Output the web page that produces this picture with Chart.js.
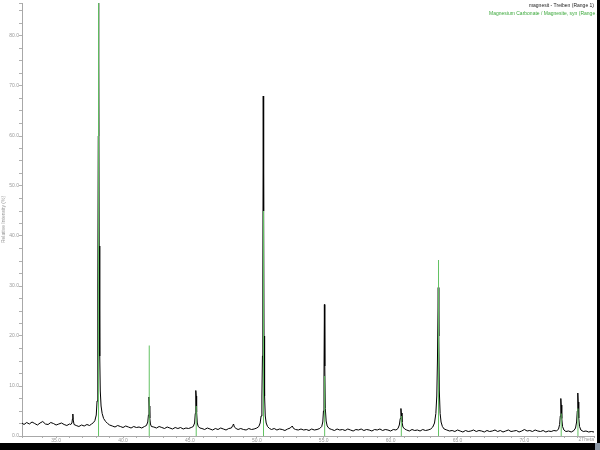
<!DOCTYPE html>
<html>
<head>
<meta charset="utf-8">
<script src="https://cdn.jsdelivr.net/npm/chart.js@4.4.1/dist/chart.umd.min.js"></script>
<style>
  html, body { margin: 0; padding: 0; background: #000; }
  #wrap { position: relative; width: 600px; height: 450px; background: #fff; overflow: hidden; }
  #c { position: absolute; left: 0; top: 0; }
  .bar { position: absolute; background: #000; }
</style>
</head>
<body>
<div id="wrap">
  <canvas id="c" width="600" height="450"></canvas>
  <div class="bar" style="left:0;top:443px;width:600px;height:7px;"></div>
  <div class="bar" style="left:597px;top:0;width:3px;height:450px;"></div>
  <div class="bar" style="left:595px;top:443px;width:5px;height:7px;background:#8a96a4;"></div>
</div>
<script>
// Measured scan (2Theta, relative intensity %)
const scanAngle = [
  32.45,32.6,32.8,33.0,33.2,33.4,33.6,33.8,34.0,34.2,34.4,34.6,34.8,35.0,35.2,35.4,35.6,35.8,36.0,
  36.1,36.18,36.22,36.25,36.28,36.34,
  36.5,36.7,36.9,37.1,37.3,37.5,37.65,37.8,37.9,38.0,38.06,38.1,38.13,38.15,38.17,38.19,38.22,38.26,38.3,38.36,38.44,38.55,38.7,38.85,39.0,
  39.2,39.4,39.6,39.8,40.0,40.2,40.4,40.6,40.8,41.0,41.2,41.4,41.6,41.75,41.85,41.9,41.94,41.97,42.0,42.05,42.12,
  42.3,42.5,42.7,42.9,43.1,43.3,43.5,43.7,43.9,44.1,44.3,44.5,44.7,44.9,45.1,45.25,45.35,45.4,45.44,45.47,45.5,45.55,45.62,45.75,
  45.9,46.1,46.3,46.5,46.7,46.9,47.1,47.3,47.5,47.7,47.9,48.1,48.2,48.26,48.32,48.45,48.6,48.8,49.0,49.2,49.4,49.6,49.8,50.0,50.15,50.25,50.32,50.38,50.42,50.45,50.48,50.51,50.54,50.58,50.63,50.7,50.8,50.95,
  51.1,51.3,51.5,51.7,51.9,52.1,52.3,52.5,52.65,52.75,52.9,53.1,53.3,53.5,53.7,53.9,54.1,54.3,54.5,54.7,54.85,54.93,54.98,55.02,55.05,55.08,55.12,55.18,55.26,55.4,
  55.6,55.8,56.0,56.2,56.4,56.6,56.8,57.0,57.2,57.4,57.6,57.8,58.0,58.2,58.4,58.6,58.8,59.0,59.2,59.4,59.6,59.8,60.0,60.2,60.4,60.55,60.65,60.72,60.77,60.8,60.85,60.92,61.05,
  61.2,61.4,61.6,61.8,62.0,62.2,62.4,62.6,62.8,63.0,63.15,63.28,63.38,63.45,63.5,63.56,63.6,63.64,63.7,63.77,63.87,64.0,
  64.2,64.4,64.6,64.8,65.0,65.2,65.4,65.6,65.8,66.0,66.2,66.4,66.6,66.8,67.0,67.2,67.4,67.6,67.8,68.0,68.2,68.4,68.6,68.8,69.0,69.2,69.4,69.6,69.8,70.0,
  70.2,70.4,70.6,70.8,71.0,71.2,71.4,71.6,71.8,72.0,72.2,72.4,72.55,72.63,72.68,72.72,72.75,72.79,72.85,72.95,
  73.1,73.3,73.5,73.7,73.82,73.9,73.95,73.99,74.02,74.06,74.12,74.22,74.4,74.6,74.8,75.0,75.2
];
const scanIntensity = [
  2.6,2.3,2.7,2.4,2.8,2.5,2.2,2.6,2.9,2.4,2.3,2.7,2.5,2.2,2.4,2.6,2.3,2.1,2.4,
  2.3,2.6,3.4,4.4,3.2,2.3,
  2.1,1.9,2.2,2.0,2.3,2.1,2.4,2.7,3.1,4.2,7,14,30,60,105,75,38,16,9,6,4.5,3.5,2.9,2.5,2.2,
  2.0,1.8,2.1,1.9,1.7,2.0,1.8,1.6,1.9,1.7,1.8,1.6,1.9,2.1,2.8,4.2,7.8,6.0,3.6,2.4,1.9,
  1.8,1.6,1.9,1.7,1.5,1.8,1.6,1.4,1.7,1.5,1.7,1.4,1.6,1.5,1.7,1.9,2.6,4.5,9.1,8.0,4.8,2.6,1.9,1.6,
  1.5,1.3,1.6,1.4,1.2,1.5,1.3,1.6,1.4,1.2,1.5,1.6,2.1,2.4,1.8,1.5,1.3,1.5,1.3,1.2,1.5,1.3,1.4,1.6,1.9,2.6,4,8,16,32,68,45,20,8,4,2.6,1.9,1.5,
  1.3,1.5,1.2,1.4,1.3,1.1,1.4,1.6,2.0,1.5,1.3,1.2,1.4,1.2,1.3,1.1,1.4,1.2,1.3,1.5,1.9,2.8,5,12,26.3,14,5.5,3,2,1.5,
  1.3,1.1,1.4,1.2,1.3,1.1,1.4,1.2,1.0,1.3,1.2,1.4,1.1,1.3,1.2,1.0,1.3,1.2,1.4,1.1,1.3,1.2,1.0,1.3,1.2,1.5,2.2,3.5,5.5,4.6,2.8,1.8,1.4,
  1.2,1.0,1.3,1.1,1.2,1.0,1.3,1.1,1.2,1.4,1.8,2.6,4.5,8,15,29.7,20,9,4.5,2.8,1.9,1.4,
  1.2,1.0,1.1,0.9,1.2,1.0,0.8,1.1,0.9,1.0,1.2,0.9,1.1,1.0,0.8,1.1,0.9,1.0,1.2,0.9,1.1,0.8,1.0,1.2,0.9,1.0,1.1,0.8,1.0,1.3,
  1.0,1.1,0.9,1.2,1.0,0.9,1.1,0.8,1.0,0.9,1.1,1.0,1.4,2.3,4,7.5,6.2,3.5,1.9,1.2,
  0.9,1.0,0.8,1.1,1.6,2.8,5,8.6,6.8,3.6,1.9,1.2,0.9,1.0,0.8,0.9,0.8
];
// Reference pattern sticks (Magnesite)
const stickAngle = [38.17, 41.96, 45.47, 50.5, 55.07, 60.8, 63.58, 72.75, 74.0];
const stickIntensity = [100, 18.1, 6, 45, 12, 4, 35.2, 4.5, 5.5];

const legendLabels = ["magnesit - Treiben (Range 1)", "Magnesium Carbonate / Magnesite, syn (Range 1)"];
const xTitle = "2Theta";
const yTitle = "Relative Intensity (%)";

const scanData = scanAngle.map((a, i) => ({x: a, y: scanIntensity[i]}));
const stickData = [];
stickAngle.forEach((a, i) => {
  stickData.push({x: a, y: 0}, {x: a, y: stickIntensity[i]}, {x: a, y: null});
});

const FONT = "'Liberation Sans', Arial, sans-serif";
const GREEN = '#62c262';

const textPlugin = {
  id: 'texts',
  afterDraw(chart) {
    const ctx = chart.ctx;
    const xs = chart.scales.x;
    ctx.save();
    ctx.font = '5px ' + FONT;
    ctx.textBaseline = 'middle';
    ctx.textAlign = 'right';
    ctx.fillStyle = '#222';
    ctx.fillText(legendLabels[0], 594, 6);
    ctx.textAlign = 'left';
    ctx.fillStyle = '#3aa83a';
    ctx.fillText(legendLabels[1], 489, 13.5);
    ctx.fillStyle = '#999';
    ctx.textAlign = 'right';
    ctx.fillText(xTitle, xs.right, 440);
    ctx.restore();
  }
};

new Chart(document.getElementById('c'), {
  type: 'line',
  data: {
    datasets: [
      { data: stickData, borderColor: GREEN, borderWidth: 1, pointRadius: 0, spanGaps: false, tension: 0 },
      { data: scanData, borderColor: '#000', borderWidth: 1, pointRadius: 0, tension: 0 }
    ]
  },
  options: {
    responsive: false,
    animation: false,
    devicePixelRatio: 1,
    layout: { padding: { top: 3, right: 6, bottom: 0, left: 0 } },
    plugins: { legend: { display: false }, tooltip: { enabled: false } },
    scales: {
      x: {
        type: 'linear', min: 32.45, max: 75.2,
        afterFit(s) { s.height = 14; },
        border: { color: '#a8a8a8' },
        grid: { drawOnChartArea: false, drawTicks: true, tickLength: 2, color: '#b0b0b0' },
        ticks: {
          stepSize: 1, autoSkip: false, maxRotation: 0, padding: 0,
          color: '#999', font: { family: FONT, size: 5 },
          callback(v) { return (Number.isInteger(v) && v % 5 === 0 && v < 75) ? v.toFixed(1) : ''; }
        }
      },
      y: {
        type: 'linear', min: 0, max: 86.6,
        afterFit(s) { s.width = 22; },
        border: { color: '#a8a8a8' },
        grid: { drawOnChartArea: false, drawTicks: true, tickLength: 3, color: '#b0b0b0' },
        title: { display: true, text: yTitle, color: '#999', font: { family: FONT, size: 5 }, padding: 1 },
        ticks: {
          stepSize: 2.5, autoSkip: false, padding: 0,
          color: '#999', font: { family: FONT, size: 5 },
          callback(v) { return (v % 10 === 0) ? v.toFixed(1) : ''; }
        }
      }
    }
  },
  plugins: [textPlugin]
});
</script>
</body>
</html>
